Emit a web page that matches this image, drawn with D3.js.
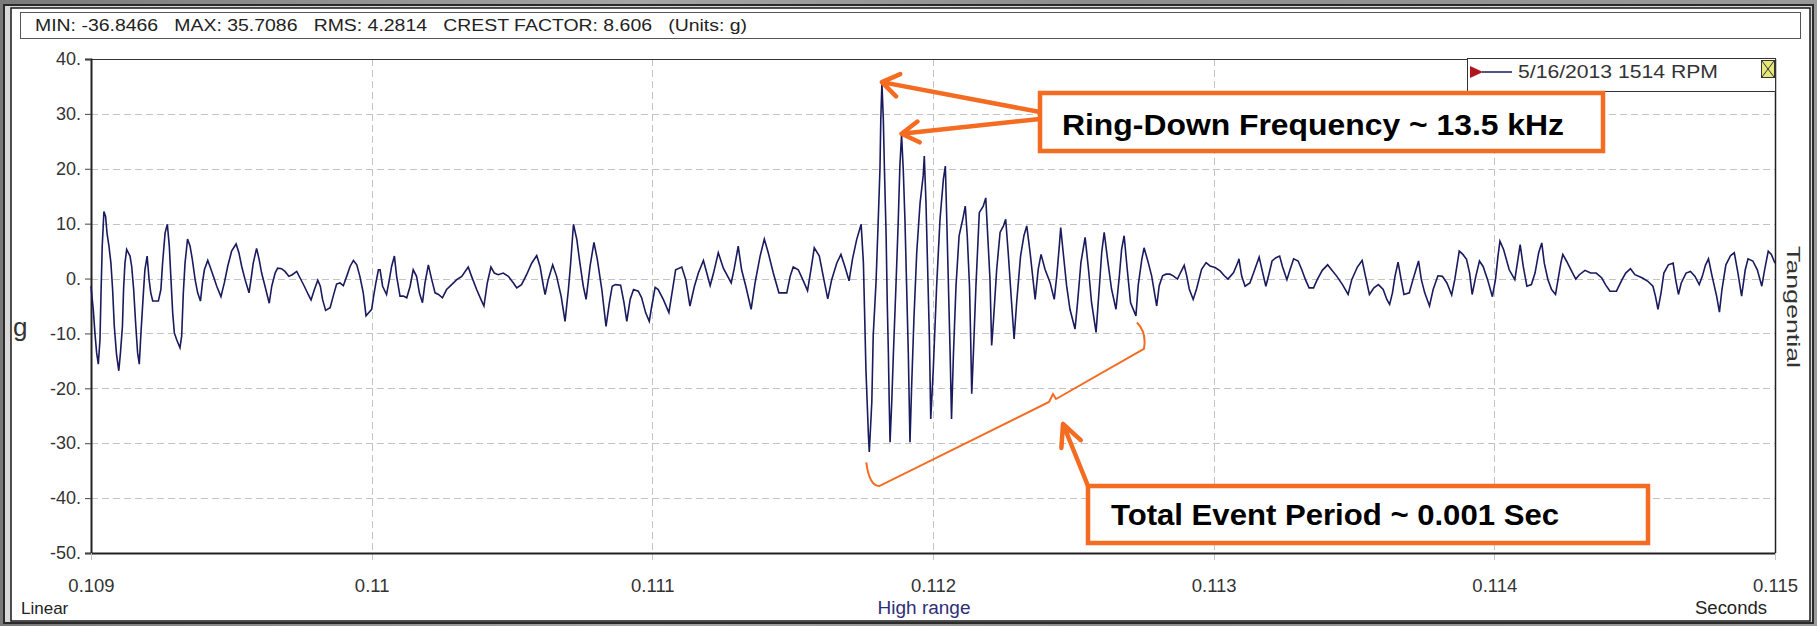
<!DOCTYPE html>
<html>
<head>
<meta charset="utf-8">
<script src="https://cdn.jsdelivr.net/npm/d3@7"></script>
<style>
  html, body { margin: 0; padding: 0; background: #8c8c8c; }
  svg { display: block; }
  text { font-family: "Liberation Sans", Arial, sans-serif; }
</style>
</head>
<body>
<svg id="chart" width="1817" height="626"></svg>
<script>
// ---- axis definitions ----
const xTicks = [0.109, 0.110, 0.111, 0.112, 0.113, 0.114, 0.115];
const xTickLabels = ["0.109", "0.11", "0.111", "0.112", "0.113", "0.114", "0.115"];
const yTicks = [40, 30, 20, 10, 0, -10, -20, -30, -40, -50];
const yTickLabels = ["40.", "30.", "20.", "10.", "0.", "-10.", "-20.", "-30.", "-40.", "-50."];
const statItems = ["MIN: -36.8466", "MAX: 35.7086", "RMS: 4.2814", "CREST FACTOR: 8.606", "(Units: g)"];
const legendLabel = "5/16/2013 1514 RPM";

// ---- waveform vertices: time (s) and acceleration (g) ----
// background vibration before the impact
const preTime = [
  0.109000,0.109008,0.109014,0.109020,0.109026,0.109032,0.109036,0.109040,0.109046,0.109052,
  0.109057,0.109064,0.109071,0.109077,0.109083,0.109091,0.109099,0.109105,0.109112,0.109116,
  0.109121,0.109127,0.109139,0.109145,0.109152,0.109159,0.109166,0.109172,0.109178,0.109186,
  0.109192,0.109200,0.109207,0.109213,0.109220,0.109240,0.109249,0.109255,0.109264,0.109272,
  0.109279,0.109285,0.109291,0.109297,0.109305,0.109317,0.109323,0.109329,0.109335,0.109344,
  0.109353,0.109361,0.109371,0.109380,0.109390,0.109397,0.109404,0.109416,0.109424,0.109436,
  0.109448,0.109463,0.109475,0.109487,0.109501,0.109517,0.109527,0.109537,0.109549,0.109563,
  0.109570,0.109578,0.109590,0.109599,0.109608,0.109620,0.109635,0.109644,0.109656,0.109665,
  0.109679,0.109691,0.109705,0.109717,0.109733,0.109745,0.109760,0.109774,0.109784,0.109796,
  0.109808,0.109817,0.109825,0.109836,0.109852,0.109863,0.109875,0.109887,0.109899,0.109911,
  0.109923,0.109935,0.109947,0.109958,0.109970,0.109980,0.109990,0.110000,0.110007,0.110015,
  0.110024,0.110030,0.110039,0.110053,0.110063,0.110071,0.110081,0.110089,0.110101,0.110113,
  0.110125,0.110137,0.110148,0.110160,0.110170,0.110181,0.110190,0.110202,0.110214,0.110226,
  0.110238,0.110252,0.110267,0.110285,0.110303,0.110321,0.110344,0.110356,0.110374,0.110392,
  0.110400,0.110412,0.110425,0.110437,0.110451,0.110469,0.110487,0.110505,0.110517,0.110534,
  0.110552,0.110570,0.110588,0.110600,0.110612,0.110618,0.110629,0.110645,0.110659,0.110675,
  0.110689,0.110701,0.110709,0.110719,0.110731,0.110742,0.110754,0.110764,0.110778,0.110792,
  0.110804,0.110820,0.110835,0.110847,0.110857,0.110869,0.110887,0.110899,0.110909,0.110921,
  0.110933,0.110950,0.110962,0.110976,0.110989,0.110998,0.111010,0.111021,0.111039,0.111059,
  0.111072,0.111083,0.111105,0.111119,0.111134,0.111150,0.111164,0.111182,0.111194,0.111206,
  0.111218,0.111235,0.111253,0.111281,0.111292,0.111306,0.111318,0.111333,0.111352,0.111366,
  0.111384,0.111399,0.111413,0.111431,0.111451,0.111479,0.111491,0.111502,0.111520,0.111536,
  0.111553,0.111565,0.111577,0.111595,0.111609,0.111625,0.111639,0.111657,0.111672,0.111686,
  0.111701,0.111713,0.111728,0.111744
];
const preAccel = [
  -1.4,-5.6,-9.9,-13.5,-15.6,-11.1,-2.0,5.9,12.2,11.3,
  8.3,5.9,2.8,-2.0,-8.7,-13.8,-16.8,-13.5,-8.7,-2.0,
  2.8,5.3,4.1,2.2,-2.0,-8.1,-13.5,-15.6,-9.9,-3.2,
  1.6,4.1,-0.2,-2.6,-4.1,-4.1,-2.0,2.8,8.3,9.9,
  5.9,-0.2,-6.2,-9.9,-11.1,-12.6,-10.5,-2.6,2.8,7.2,
  5.9,3.5,-0.2,-2.6,-4.1,-0.8,1.6,3.3,2.2,0.4,
  -1.4,-3.3,-0.8,2.2,5.0,6.3,4.7,2.2,-0.2,-2.6,
  -0.2,2.8,5.5,3.5,1.0,-1.4,-4.5,-1.4,1.0,1.9,
  1.8,1.3,0.4,0.7,1.3,0.1,-1.4,-2.9,-3.9,-2.0,
  -0.3,-1.4,-3.8,-5.8,-5.3,-3.2,-1.0,-0.8,-1.3,0.4,
  2.2,3.3,2.5,0.4,-2.6,-6.8,-6.2,-5.6,-3.2,-0.8,
  1.6,1.6,-1.4,-2.9,-0.2,2.2,4.1,0.4,-3.2,-3.2,
  -3.5,-1.4,1.6,0.4,-2.6,-4.4,-0.8,2.5,-0.2,-2.6,
  -2.9,-3.5,-2.0,-1.1,-0.2,0.4,2.1,0.4,-2.0,-4.1,
  -5.0,-0.8,2.1,1.0,0.7,1.0,0.4,-0.8,-1.7,-1.1,
  0.7,2.8,4.2,2.2,-1.4,-2.9,-0.2,2.5,0.4,-3.2,
  -7.8,-2.0,2.8,9.9,7.1,2.8,-1.4,-3.8,2.2,6.6,
  3.5,-2.0,-8.7,-4.4,-1.4,-1.1,-1.2,-4.4,-7.8,-3.8,
  -2.0,-2.3,-3.5,-6.2,-7.8,-5.0,-1.6,-2.0,-3.8,-6.2,
  -2.0,1.6,2.1,-0.2,-5.0,-1.4,1.0,3.3,1.0,-1.3,
  1.0,4.7,1.9,-0.8,1.9,5.9,1.6,-1.4,-5.6,-0.8,
  4.1,7.2,4.7,1.0,-2.6,-2.6,0.4,2.1,1.6,-0.2,
  -2.2,1.6,5.6,4.1,0.4,-3.7,-0.2,2.8,4.4,2.2,
  -0.4,3.5,7.1,9.9
];

// impact and ring-down
const ringTime = [
  0.111752,0.111756,0.111761,0.111770,0.111773,0.111782,0.111787,0.111797,0.111805,0.111811,
  0.111814,0.111818,0.111823,0.111827,0.111833,0.111837,0.111841,0.111844,0.111847,0.111853,
  0.111859,0.111868,0.111876,0.111882,0.111888,0.111894,0.111900,0.111906,0.111912,0.111918,
  0.111924,0.111932,0.111942,0.111954,0.111965,0.111969,0.111975,0.111981,0.111987,0.111992,
  0.112001,0.112013,0.112025,0.112037,0.112044,0.112049,0.112055,0.112061,0.112066,0.112073,
  0.112082,0.112093,0.112106,0.112115,0.112122,0.112130,0.112134,0.112138,0.112144,0.112153,
  0.112165,0.112179,0.112188,0.112195,0.112203,0.112209,0.112215,0.112227,0.112239,0.112251,
  0.112259,0.112268,0.112280,0.112289,0.112298,0.112312,0.112324,0.112334,0.112346,0.112355,
  0.112364,0.112375,0.112385,0.112399,0.112417,0.112432,0.112441,0.112450,0.112455,0.112464,
  0.112476,0.112488,0.112506,0.112515,0.112527,0.112542,0.112554,0.112565,0.112581,0.112593,
  0.112601,0.112610,0.112622,0.112636,0.112652,0.112664,0.112672,0.112681,0.112692,0.112704,
  0.112723,0.112731,0.112744,0.112752,0.112767,0.112779,0.112797,0.112806,0.112818,0.112830,
  0.112844,0.112856,0.112871,0.112882,0.112895,0.112904,0.112913,0.112927,0.112939,0.112957,
  0.112973,0.112987,0.113005,0.113023,0.113038,0.113051,0.113071,0.113088
];
const ringAccel = [
  2.9,-5.6,-16.5,-28.7,-31.6,-22.5,-10.4,-0.7,10.8,19.9,
  29.0,35.6,29.0,19.9,7.8,-4.4,-13.5,-22.5,-29.8,-22.5,
  -13.5,-1.3,10.2,20.5,26.2,19.9,10.8,-1.3,-13.5,-29.8,
  -19.5,-7.4,4.7,13.8,18.7,22.3,13.8,1.7,-10.4,-25.6,
  -16.5,-1.3,10.8,18.1,20.5,10.8,-1.3,-13.5,-25.6,-13.5,
  -1.3,7.8,10.8,13.2,7.8,-1.3,-10.4,-21.0,-13.5,-1.3,
  12.0,13.2,14.7,7.8,-0.1,-12.2,-8.0,1.7,8.4,9.6,
  10.8,4.7,-4.4,-11.0,-4.4,4.1,7.8,9.6,4.7,0.5,
  -3.8,1.7,4.4,1.7,-0.7,-3.8,0.5,5.9,9.3,4.7,
  -1.3,-5.6,-9.2,-4.4,2.9,7.5,1.7,-4.4,-9.8,-1.3,
  4.7,8.4,3.5,-1.9,-5.6,0.5,5.3,7.8,1.7,-4.4,
  -6.8,-1.3,3.5,5.6,2.9,0.5,-5.0,-1.3,0.5,0.8,
  0.8,0.5,-0.1,1.1,2.4,0.5,-1.9,-3.8,-1.9,1.7,
  2.9,2.3,2.0,1.4,0.5,-0.1,1.1,3.2
];

// background vibration after the event
const postTime = [
  0.113090,0.113100,0.113112,0.113129,0.113142,0.113162,0.113175,0.113186,0.113198,0.113208,
  0.113222,0.113235,0.113245,0.113261,0.113272,0.113285,0.113301,0.113314,0.113327,0.113340,
  0.113356,0.113369,0.113387,0.113406,0.113420,0.113439,0.113459,0.113479,0.113492,0.113512,
  0.113529,0.113541,0.113555,0.113571,0.113587,0.113604,0.113617,0.113627,0.113637,0.113646,
  0.113657,0.113668,0.113678,0.113697,0.113710,0.113730,0.113740,0.113752,0.113769,0.113782,
  0.113799,0.113815,0.113831,0.113848,0.113859,0.113875,0.113888,0.113901,0.113912,0.113921,
  0.113934,0.113947,0.113960,0.113976,0.113993,0.114004,0.114013,0.114020,0.114033,0.114053,
  0.114073,0.114082,0.114092,0.114103,0.114116,0.114132,0.114145,0.114158,0.114169,0.114178,
  0.114191,0.114204,0.114218,0.114227,0.114237,0.114244,0.114257,0.114270,0.114290,0.114303,
  0.114323,0.114343,0.114363,0.114383,0.114396,0.114412,0.114435,0.114455,0.114468,0.114485,
  0.114501,0.114528,0.114547,0.114565,0.114574,0.114583,0.114594,0.114604,0.114620,0.114637,
  0.114646,0.114656,0.114666,0.114683,0.114699,0.114715,0.114730,0.114741,0.114752,0.114763,
  0.114776,0.114792,0.114802,0.114811,0.114825,0.114842,0.114855,0.114868,0.114881,0.114894,
  0.114904,0.114921,0.114937,0.114953,0.114963,0.114976,0.114987,0.115000
];
const postAccel = [
  3.6,0.4,-1.4,-0.8,1.0,3.9,1.0,-1.4,1.0,3.2,
  3.8,4.1,2.2,-0.2,1.6,3.6,3.2,1.6,-0.2,-1.7,
  -1.7,-0.2,1.5,2.5,1.6,0.4,-1.1,-2.9,-0.2,2.1,
  3.3,0.4,-2.9,-1.7,-1.1,-2.0,-3.8,-4.7,-2.6,0.4,
  3.0,-0.2,-2.9,-2.6,-0.2,3.2,-0.2,-2.6,-5.0,-2.0,
  0.5,0.4,-0.8,-3.0,-0.2,5.0,4.4,3.5,1.0,-2.9,
  0.4,3.2,2.2,-0.2,-3.3,-0.2,4.1,6.8,5.3,1.6,
  -0.2,2.8,6.2,2.2,-1.4,-1.1,1.0,4.7,6.5,2.8,
  -0.2,-2.0,-2.9,-0.2,2.8,4.4,3.2,1.9,-0.1,0.7,
  1.5,1.0,1.0,0.1,-1.1,-2.3,-2.3,-0.2,1.0,1.8,
  0.7,0.1,-0.5,-1.4,-3.2,-5.6,-2.6,1.0,2.5,2.8,
  -0.2,-2.9,-0.8,1.0,1.3,0.4,-1.1,0.4,2.4,3.6,
  0.4,-3.2,-6.1,-2.0,2.5,4.2,4.7,1.0,-3.2,1.6,
  3.6,3.2,1.6,-1.4,1.6,5.0,4.4,2.8
];

// annotated features
const ringPeakTimes = [0.111818, 0.111888];           // first two ring-down crests
const eventStart = 0.111773, eventEnd = 0.112723;     // span of the event brace
const annotationTexts = ["Ring-Down Frequency ~ 13.5 kHz", "Total Event Period ~ 0.001 Sec"];

// ---- assemble series ----
const times = preTime.concat(ringTime, postTime);
const accel = preAccel.concat(ringAccel, postAccel);
const series = times.map((t, i) => ({ t, g: accel[i] }));

// ---- layout ----
const W = 1817, H = 626;
const plot = { left: 91, right: 1775, top: 59, bottom: 553 };
const svg = d3.select("#chart");

const x = d3.scaleLinear().domain([0.109, 0.115]).range([plot.left, plot.right]);
const y = d3.scaleLinear().domain([-50, 40]).range([plot.bottom, plot.top]);

// stone-grey surround
const defs = svg.append("defs");
const bgGrad = defs.append("linearGradient").attr("id", "bgGrad")
  .attr("x1", 0).attr("y1", 0).attr("x2", 1).attr("y2", 0);
bgGrad.append("stop").attr("offset", "0%").attr("stop-color", "#7a7a7a");
bgGrad.append("stop").attr("offset", "35%").attr("stop-color", "#a5a5a5");
bgGrad.append("stop").attr("offset", "60%").attr("stop-color", "#8d8d8d");
bgGrad.append("stop").attr("offset", "100%").attr("stop-color", "#9a9a9a");
svg.append("rect").attr("width", W).attr("height", H).attr("fill", "url(#bgGrad)");

// window frame and white panel
svg.append("rect").attr("x", 4).attr("y", 5).attr("width", 1809).attr("height", 618)
  .attr("fill", "#d9d9d9").attr("stroke", "#2a2a2a").attr("stroke-width", 2);
svg.append("rect").attr("x", 11).attr("y", 8).attr("width", 1799).attr("height", 613)
  .attr("fill", "#ffffff").attr("stroke", "#1a1a1a").attr("stroke-width", 1.5);

// statistics header
svg.append("rect").attr("x", 20.5).attr("y", 12.5).attr("width", 1780).attr("height", 26)
  .attr("fill", "#fff").attr("stroke", "#555").attr("stroke-width", 1);
svg.append("text").attr("x", 35).attr("y", 31)
  .attr("font-size", 16).attr("fill", "#222")
  .attr("textLength", 712).attr("lengthAdjust", "spacingAndGlyphs")
  .attr("xml:space", "preserve")
  .text(statItems.join("   "));

// grid
const grid = svg.append("g").attr("stroke", "#c4c4c4").attr("stroke-width", 1)
  .attr("stroke-dasharray", "7,4");
grid.selectAll("line.h").data(yTicks.filter(v => v < 40 && v > -50)).join("line")
  .attr("x1", plot.left).attr("x2", plot.right)
  .attr("y1", d => Math.round(y(d)) + 0.5).attr("y2", d => Math.round(y(d)) + 0.5);
grid.selectAll("line.v").data(xTicks.slice(1, -1)).join("line")
  .attr("y1", plot.top).attr("y2", plot.bottom + 7)
  .attr("x1", d => Math.round(x(d)) + 0.5).attr("x2", d => Math.round(x(d)) + 0.5);

// plot frame
svg.append("line").attr("x1", plot.left).attr("x2", plot.right).attr("y1", plot.top + 0.5).attr("y2", plot.top + 0.5)
  .attr("stroke", "#333").attr("stroke-width", 1.2);
svg.append("line").attr("x1", plot.right + 0.5).attr("x2", plot.right + 0.5).attr("y1", plot.top).attr("y2", plot.bottom)
  .attr("stroke", "#222").attr("stroke-width", 1.5);

// y axis
const yAxis = d3.axisLeft(y).tickValues(yTicks)
  .tickFormat((d, i) => yTickLabels[i]).tickSize(6).tickPadding(4);
const gy = svg.append("g").attr("transform", `translate(${plot.left},0)`).call(yAxis);
gy.select(".domain").attr("stroke", "#222").attr("stroke-width", 2);
gy.selectAll(".tick line").attr("stroke", "#444");
gy.selectAll(".tick text").attr("font-size", 18).attr("fill", "#333")
  .attr("font-family", "Liberation Sans, Arial, sans-serif");

// x axis
const xAxis = d3.axisBottom(x).tickValues(xTicks)
  .tickFormat((d, i) => xTickLabels[i]).tickSize(0).tickPadding(26);
const gx = svg.append("g").attr("transform", `translate(0,${plot.bottom})`).call(xAxis);
gx.select(".domain").attr("stroke", "#222").attr("stroke-width", 2);
gx.selectAll(".tick text").attr("font-size", 18.5).attr("fill", "#333")
  .attr("font-family", "Liberation Sans, Arial, sans-serif");
gx.selectAll(".tick").filter((d, i) => i === 0 || i === xTicks.length - 1)
  .append("line").attr("y1", 0).attr("y2", 7).attr("stroke", "#c4c4c4")
  .attr("stroke-dasharray", "7,4");

// axis captions
svg.append("text").attr("x", 21).attr("y", 614).attr("font-size", 17).attr("fill", "#222").text("Linear");
svg.append("text").attr("x", 924).attr("y", 614).attr("text-anchor", "middle")
  .attr("font-size", 18).attr("fill", "#2e2e78")
  .attr("textLength", 93).attr("lengthAdjust", "spacingAndGlyphs").text("High range");
svg.append("text").attr("x", 1767).attr("y", 614).attr("text-anchor", "end")
  .attr("font-size", 18).attr("fill", "#222")
  .attr("textLength", 72).attr("lengthAdjust", "spacingAndGlyphs").text("Seconds");
svg.append("text").attr("x", 13).attr("y", 336).attr("font-size", 26).attr("fill", "#333").text("g");
svg.append("text").attr("transform", "translate(1787,307) rotate(90)")
  .attr("text-anchor", "middle").attr("font-size", 19).attr("fill", "#333")
  .attr("textLength", 122).attr("lengthAdjust", "spacingAndGlyphs").text("Tangential");

// waveform
const line = d3.line().x(d => x(d.t)).y(d => y(d.g));
svg.append("path").datum(series).attr("d", line)
  .attr("fill", "none").attr("stroke", "#1a1a5e").attr("stroke-width", 1.6)
  .attr("stroke-linejoin", "miter");

// legend
const lg = svg.append("g");
lg.append("rect").attr("x", 1467.5).attr("y", 58.5).attr("width", 308).attr("height", 33)
  .attr("fill", "#fff").attr("stroke", "#333").attr("stroke-width", 1);
lg.append("path").attr("d", "M1470,66 L1483,72 L1470,78 Z").attr("fill", "#b0141e");
lg.append("line").attr("x1", 1482).attr("x2", 1512).attr("y1", 72).attr("y2", 72)
  .attr("stroke", "#1a1a5e").attr("stroke-width", 1.5);
lg.append("text").attr("x", 1518).attr("y", 78).attr("font-size", 18).attr("fill", "#333")
  .attr("textLength", 200).attr("lengthAdjust", "spacingAndGlyphs").text(legendLabel);
lg.append("rect").attr("x", 1761.5).attr("y", 60.5).attr("width", 13).attr("height", 17)
  .attr("fill", "#e7e87a").attr("stroke", "#333").attr("stroke-width", 1);
lg.append("path").attr("d", "M1762,61 L1774,77 M1774,61 L1762,77")
  .attr("stroke", "#333").attr("stroke-width", 1);

// ---- annotations ----
const orange = "#f36c21";
const ann = svg.append("g");

function arrow(from, tip, headLen, spread) {
  const ang = Math.atan2(from[1] - tip[1], from[0] - tip[0]);
  const b1 = [tip[0] + headLen * Math.cos(ang - spread), tip[1] + headLen * Math.sin(ang - spread)];
  const b2 = [tip[0] + headLen * Math.cos(ang + spread), tip[1] + headLen * Math.sin(ang + spread)];
  ann.append("path")
    .attr("d", `M${from[0]},${from[1]} L${tip[0]},${tip[1]} M${b1[0]},${b1[1]} L${tip[0]},${tip[1]} L${b2[0]},${b2[1]}`)
    .attr("fill", "none").attr("stroke", orange).attr("stroke-width", 4.5)
    .attr("stroke-linecap", "round").attr("stroke-linejoin", "round");
}

// arrows to the first two crests
const crestPts = ringPeakTimes.map(t => {
  const i = times.indexOf(t);
  return [x(times[i]), y(accel[i]) - 1];
});
arrow([1040, 112], crestPts[0], 20, 0.6);
arrow([1040, 119], crestPts[1], 20, 0.55);

// brace spanning the event
const bx0 = x(eventStart), bx1 = x(eventEnd);
const bL = [bx0 - 3, y(-33.5)], bLc = [bx0 + 10, y(-37.8)];
const bMid = [1053, 399];
const bRc = [bx1 + 8, y(-12.8)], bR = [bx1 + 1, y(-8)];
ann.append("path")
  .attr("d", `M${bL[0]},${bL[1]} Q${bL[0] + 3},${bLc[1]} ${bLc[0]},${bLc[1]} ` +
             `L${bMid[0] - 4},${bMid[1] + 3} L${bMid[0]},${bMid[1] - 5} L${bMid[0] + 3},${bMid[1]} ` +
             `L${bRc[0]},${bRc[1]} Q${bRc[0] + 3},${bR[1] + 10} ${bR[0]},${bR[1]}`)
  .attr("fill", "none").attr("stroke", orange).attr("stroke-width", 2);

arrow([1088, 486], [1063, 424], 24, 0.45);

// callout boxes
ann.append("rect").attr("x", 1040).attr("y", 93).attr("width", 563).attr("height", 58)
  .attr("fill", "#fff").attr("stroke", orange).attr("stroke-width", 4.5);
ann.append("text").attr("x", 1062).attr("y", 135)
  .attr("font-family", "'Open Sans', 'Noto Sans', sans-serif").attr("font-weight", 700)
  .attr("font-size", 30).attr("fill", "#000")
  .attr("textLength", 502).attr("lengthAdjust", "spacingAndGlyphs")
  .text(annotationTexts[0]);

ann.append("rect").attr("x", 1088).attr("y", 486).attr("width", 560).attr("height", 57)
  .attr("fill", "#fff").attr("stroke", orange).attr("stroke-width", 4.5);
ann.append("text").attr("x", 1111).attr("y", 525)
  .attr("font-family", "'Open Sans', 'Noto Sans', sans-serif").attr("font-weight", 700)
  .attr("font-size", 30).attr("fill", "#000")
  .attr("textLength", 448).attr("lengthAdjust", "spacingAndGlyphs")
  .text(annotationTexts[1]);
</script>
</body>
</html>
